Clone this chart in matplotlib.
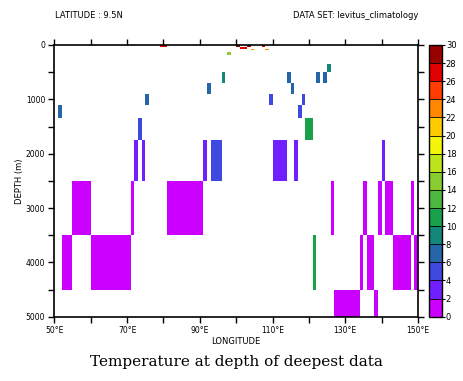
import numpy as np
import matplotlib
matplotlib.use('Agg')
import matplotlib.pyplot as plt
from matplotlib.colors import ListedColormap, BoundaryNorm
from matplotlib.cm import ScalarMappable

# blocks of "temperature at depth of deepest data", lat 9.5N
lon_west = [79, 100, 101, 103, 104, 107, 108, 97.5,
            96, 92, 75, 51, 73, 72, 74, 91, 93,
            125, 114, 122, 124, 115, 109, 118, 117, 119, 110, 116, 140,
            55, 71, 81, 52, 60, 126, 135, 139, 141, 148,
            121, 134, 136, 143, 149, 127, 138]
lon_east = [81, 101, 103, 104, 105, 108, 109, 98.5,
            97, 93, 76, 52, 74, 73, 75, 92, 96,
            126, 115, 123, 125, 116, 110, 119, 118, 121, 114, 117, 141,
            60, 72, 91, 55, 71, 127, 136, 140, 143, 149,
            122, 135, 138, 148, 150, 134, 139]
depth_top = [0, 0, 30, 0, 70, 0, 70, 130,
             500, 700, 900, 1100, 1350, 1750, 1750, 1750, 1750,
             350, 500, 500, 500, 700, 900, 900, 1100, 1350, 1750, 1750, 1750,
             2500, 2500, 2500, 3500, 3500, 2500, 2500, 2500, 2500, 2500,
             3500, 3500, 3500, 3500, 3500, 4500, 4500]
depth_bot = [30, 30, 70, 30, 90, 30, 90, 180,
             700, 900, 1100, 1350, 1750, 2500, 2500, 2500, 2500,
             500, 700, 700, 700, 900, 1100, 1100, 1350, 1750, 2500, 2500, 2500,
             3500, 3500, 3500, 4500, 4500, 3500, 3500, 3500, 3500, 3500,
             4500, 4500, 4500, 4500, 4500, 5000, 5000]
temp = [27, 29, 27, 29, 23, 27, 23, 15,
        9, 7, 7, 7, 5, 3, 3, 3, 5,
        9, 7, 7, 7, 7, 5, 5, 5, 11, 3, 3, 3,
        1, 1, 1, 1, 1, 1, 1, 1, 1, 1,
        11, 1, 1, 1, 1, 1, 1]

levels = np.arange(0, 31, 2)
pal = ['#CC00FF', '#7020FF', '#3F48DF', '#2565A8', '#12877A', '#18A04B',
       '#4DB840', '#88CC30', '#BFE31A', '#F5F50A', '#FFCC00', '#FF8800',
       '#FF3D00', '#E00000', '#990000']
cmap = ListedColormap(pal)
norm = BoundaryNorm(levels, cmap.N)

lon_west = np.array(lon_west)
lon_east = np.array(lon_east)
depth_top = np.array(depth_top)
depth_bot = np.array(depth_bot)

fig = plt.figure(figsize=(4.63, 3.81), dpi=100)
ax = fig.add_axes([0.1173, 0.1688, 0.7855, 0.7131])
cax = fig.add_axes([0.9272, 0.1688, 0.0268, 0.7131])

ax.bar(lon_west, depth_bot - depth_top, width=lon_east - lon_west, bottom=depth_top,
       align='edge', color=cmap(norm(temp)), linewidth=0)

ax.set_xlim(50, 150)
ax.set_ylim(5000, 0)
xt = np.arange(50, 151, 10)
ax.set_xticks(xt)
ax.set_xticklabels([f'{v}°E' if (v - 50) % 20 == 0 else '' for v in xt])
yt = np.arange(0, 5001, 500)
ax.set_yticks(yt)
ax.set_yticklabels([str(v) if v % 1000 == 0 else '' for v in yt])
ax.tick_params(top=True, right=True, direction='out', length=4.5, width=1,
               labelsize=5.5, pad=2)
for s in ax.spines.values():
    s.set_linewidth(1.2)
ax.set_xlabel('LONGITUDE', fontsize=6, labelpad=2)
ax.set_ylabel('DEPTH (m)', fontsize=6, labelpad=1)

cb = fig.colorbar(ScalarMappable(norm=norm, cmap=cmap), cax=cax,
                  ticks=levels, drawedges=True)
cb.outline.set_linewidth(1)
cb.dividers.set_linewidth(0.6)
cax.tick_params(labelsize=6, length=2, pad=1)

fig.text(55 / 463, 1 - 16 / 381, 'LATITUDE : 9.5N', fontsize=6, va='center')
fig.text(418 / 463, 1 - 16 / 381, 'DATA SET: levitus_climatology', fontsize=6,
         va='center', ha='right')
fig.text(236 / 463, 1 - 362 / 381, 'Temperature at depth of deepest data',
         fontsize=11, family='DejaVu Serif', ha='center', va='center')

fig.savefig('out.png', dpi=100)
